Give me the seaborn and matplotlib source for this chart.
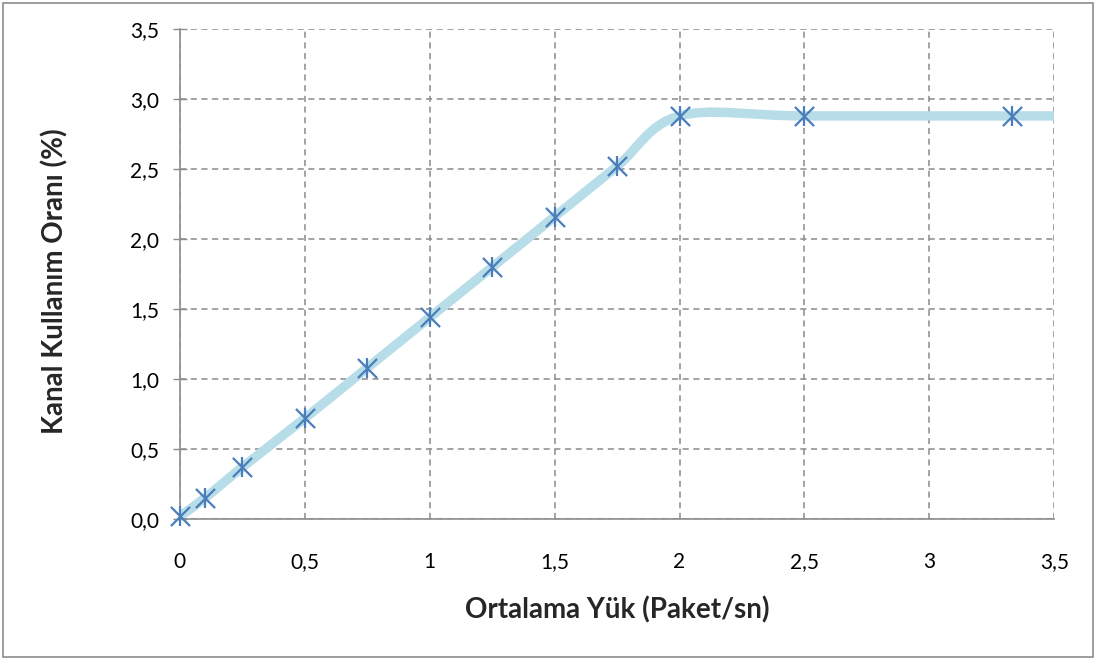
import numpy as np
import pandas as pd
import matplotlib
matplotlib.use("Agg")
import matplotlib.pyplot as plt
from matplotlib.path import Path
from matplotlib.patches import PathPatch, Rectangle
import seaborn as sns

# Data
load = [0.0, 0.1, 0.25, 0.5, 0.75, 1.0, 1.25, 1.5, 1.75, 2.0, 2.5, 3.33, 4.0]
usage = [0.02, 0.15, 0.37, 0.72, 1.08, 1.44, 1.80, 2.16, 2.52, 2.88, 2.88, 2.88, 2.88]
x_ticks = [0, 0.5, 1, 1.5, 2, 2.5, 3, 3.5]
x_labels = ["0", "0,5", "1", "1,5", "2", "2,5", "3", "3,5"]
y_ticks = [0, 0.5, 1.0, 1.5, 2.0, 2.5, 3.0, 3.5]
y_labels = ["0,0", "0,5", "1,0", "1,5", "2,0", "2,5", "3,0", "3,5"]
x_title = "Ortalama Yük (Paket/sn)"
y_title = "Kanal Kullanım Oranı (%)"

sns.set_theme(style="white")
plt.rcParams["font.family"] = ["Lato", "DejaVu Sans"]

fig = plt.figure(figsize=(10.97, 6.62), dpi=100)
ax = fig.add_axes([0.164, 0.216, 0.797, 0.740])

df = pd.DataFrame({"x": load, "y": usage})

# Smoothed line (Excel-style Bezier smoothing through the points)
pts = df[["x", "y"]].to_numpy()
verts = [tuple(pts[0])]
codes = [Path.MOVETO]
n = len(pts)
for i in range(n - 1):
    p0 = pts[i - 1] if i > 0 else pts[i]
    p1 = pts[i]
    p2 = pts[i + 1]
    p3 = pts[i + 2] if i + 2 < n else pts[i + 1]
    c1 = p1 + (p2 - p0) / 6.0
    c2 = p2 - (p3 - p1) / 6.0
    verts += [tuple(c1), tuple(c2), tuple(p2)]
    codes += [Path.CURVE4] * 3
patch = PathPatch(Path(verts, codes), facecolor="none", edgecolor="#B7DDE8",
                  linewidth=6.8, capstyle="butt", joinstyle="round", zorder=2)
ax.add_patch(patch)

# Star markers (x plus vertical bar), only for points inside the axis range
vis = df[df["x"] <= 3.5]
for mk in ["x", "|"]:
    sns.scatterplot(data=vis, x="x", y="y", marker=mk, s=190, color="#4A7EBB",
                    linewidth=1.6, ax=ax, zorder=3, legend=False, clip_on=False)

ax.set_xlim(0, 3.5)
ax.set_ylim(0, 3.5)
ax.set_xticks(x_ticks)
ax.set_xticklabels(x_labels)
ax.set_yticks(y_ticks)
ax.set_yticklabels(y_labels)

ax.grid(True, linestyle=(0, (4, 3)), color="#8A8A8A", linewidth=1.1)
ax.set_axisbelow(True)
for s in ["top", "right"]:
    ax.spines[s].set_visible(False)
for s in ["left", "bottom"]:
    ax.spines[s].set_color("#8C8C8C")
    ax.spines[s].set_linewidth(1.2)
    ax.spines[s].set_zorder(2.5)

ax.tick_params(axis="both", which="major", labelsize=15, labelcolor="black")
ax.tick_params(axis="y", direction="inout", length=10, width=1.0,
               color="#8C8C8C", pad=10, left=True)
ax.tick_params(axis="x", length=0, pad=24, bottom=True)

ax.set_xlabel(x_title, fontsize=20, fontweight="bold")
ax.set_ylabel(y_title, fontsize=20, fontweight="bold")
ax.xaxis.label.set_va("center")
ax.yaxis.label.set_va("center")
ax.xaxis.set_label_coords(0.5, -0.186)
ax.yaxis.set_label_coords(-0.143, 0.485)

fig.patches.append(Rectangle((0.003, 0.008), 0.993, 0.988, transform=fig.transFigure,
                             fill=False, edgecolor="#8C8C8C", linewidth=1.2))

fig.savefig("out.png", dpi=100)
